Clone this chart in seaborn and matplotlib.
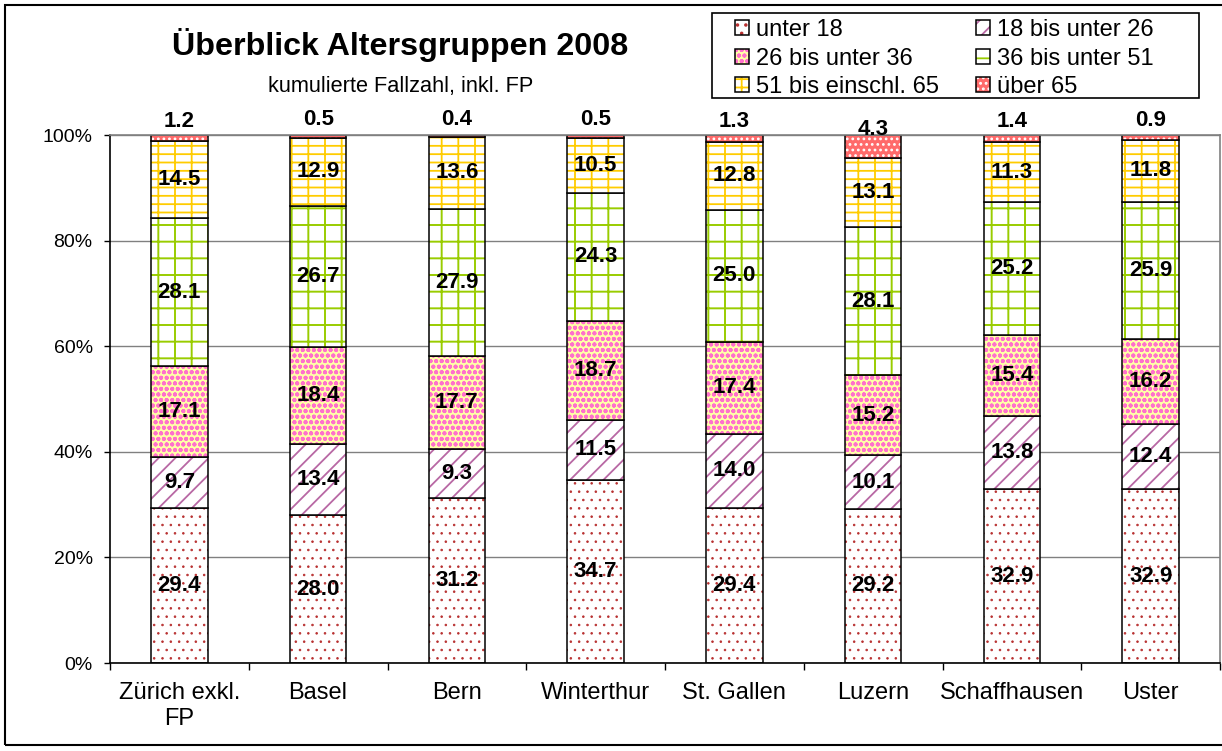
import numpy as np
import matplotlib
matplotlib.use("Agg")
import matplotlib.pyplot as plt
import seaborn as sns
from matplotlib.patches import Patch, Rectangle
from matplotlib.ticker import PercentFormatter

cities = ["Zürich exkl.\nFP", "Basel", "Bern", "Winterthur", "St. Gallen",
          "Luzern", "Schaffhausen", "Uster"]
groups = ["unter 18", "18 bis unter 26", "26 bis unter 36", "36 bis unter 51",
          "51 bis einschl. 65", "über 65"]

unter_18 = [29.4, 28.0, 31.2, 34.7, 29.4, 29.2, 32.9, 32.9]
von_18_26 = [9.7, 13.4, 9.3, 11.5, 14.0, 10.1, 13.8, 12.4]
von_26_36 = [17.1, 18.4, 17.7, 18.7, 17.4, 15.2, 15.4, 16.2]
von_36_51 = [28.1, 26.7, 27.9, 24.3, 25.0, 28.1, 25.2, 25.9]
von_51_65 = [14.5, 12.9, 13.6, 10.5, 12.8, 13.1, 11.3, 11.8]
ueber_65 = [1.2, 0.5, 0.4, 0.5, 1.3, 4.3, 1.4, 0.9]

series = [unter_18, von_18_26, von_26_36, von_36_51, von_51_65, ueber_65]

# fill colour, hatch colour, hatch, hatch line width
faces = ["white", "white", "#ffffa8", "white", "white", "#ff6a6a"]
hatch_cols = ["#b83030", "#b868a4", "#ff70cc", "#99cc00", "#ffcc00", "white"]
hatches = ["..", "//", "ooo", "+", "--|", "..."]
hatch_lw = [0.6, 1.3, 1.3, 1.4, 1.3, 1.2]

sns.set_style("white")
plt.rcParams["font.family"] = ["Liberation Sans", "DejaVu Sans"]
plt.rcParams["hatch.linewidth"] = 1.3
for key in ["text.color", "axes.labelcolor", "xtick.color", "ytick.color"]:
    plt.rcParams[key] = "black"

W, H = 1222, 751
fig = plt.figure(figsize=(W / 100, H / 100), dpi=100)
ax = fig.add_axes([110 / W, 88 / H, 1110 / W, 528 / H])

vals = np.array(series)
totals = vals.sum(axis=0)
bar_w = 0.406

bottom = np.zeros(len(cities))
for i, v in enumerate(vals):
    share = v / totals
    with plt.rc_context({"hatch.linewidth": hatch_lw[i]}):
        sns.barplot(x=cities, y=share, order=cities, bottom=bottom, width=bar_w,
                    color=faces[i], edgecolor=hatch_cols[i], linewidth=0,
                    hatch=hatches[i], saturation=1, errorbar=None, ax=ax)
    sns.barplot(x=cities, y=share, order=cities, bottom=bottom, width=bar_w,
                color="black", fill=False, linewidth=1.1, saturation=1,
                errorbar=None, ax=ax)
    for j, (b, s, raw) in enumerate(zip(bottom, share, v)):
        if i == len(vals) - 1:
            ax.annotate(f"{raw:.1f}", (j, b + s / 2), xytext=(0, 17),
                        textcoords="offset pixels", ha="center", va="center",
                        fontsize=16, fontweight="bold", color="black")
        else:
            ax.text(j, b + s / 2, f"{raw:.1f}", ha="center", va="center",
                    fontsize=16, fontweight="bold", color="black")
    bottom = bottom + share

ax.set_xlim(-0.5, len(cities) - 0.5)
ax.set_ylim(0, 1)
ax.set_yticks(np.linspace(0, 1, 6))
ax.yaxis.set_major_formatter(PercentFormatter(1.0, decimals=0))
ax.set_xticks(np.arange(-0.5, len(cities), 1), minor=True)
ax.tick_params(axis="x", which="major", length=0, pad=14, labelsize=17)
ax.tick_params(axis="x", which="minor", length=5, width=1, color="black",
               direction="out", bottom=True)
ax.tick_params(axis="y", length=4.5, width=1, color="black", direction="out",
               left=True, pad=8, labelsize=14)
ax.yaxis.grid(True, color="#808080", linewidth=1)
ax.set_axisbelow(True)
for side in ["left", "bottom"]:
    ax.spines[side].set_color("black")
    ax.spines[side].set_linewidth(1.2)
for side in ["top", "right"]:
    ax.spines[side].set_color("#808080")
    ax.spines[side].set_linewidth(1.2)
ax.set_xlabel("")
ax.set_ylabel("")

fig.text(400 / W, 1 - 55 / H, "Überblick Altersgruppen 2008", ha="center",
         va="baseline", fontsize=23.2, fontweight="bold")
fig.text(401 / W, 1 - 92 / H, "kumulierte Fallzahl, inkl. FP", ha="center",
         va="baseline", fontsize=15.7)

handles = []
for i in range(len(groups)):
    with plt.rc_context({"hatch.linewidth": hatch_lw[i]}):
        hp = Patch(facecolor=faces[i], edgecolor=hatch_cols[i], hatch=hatches[i], lw=0)
    handles.append((hp, Patch(fill=False, edgecolor="black", lw=1.1)))
order = [0, 2, 4, 1, 3, 5]
fig.legend([handles[k] for k in order], [groups[k] for k in order], ncol=2,
           loc="upper left", bbox_to_anchor=(735 / W, 1 - 19 / H), frameon=False,
           fontsize=17, handlelength=0.6, handleheight=0.6, handletextpad=0.3,
           columnspacing=1.55, labelspacing=0.28, borderpad=0, borderaxespad=0)
fig.add_artist(Rectangle((712 / W, 1 - 98 / H), (1199 - 712) / W, 85 / H,
                         transform=fig.transFigure, fill=False, ec="black", lw=1.2))
fig.add_artist(Rectangle((5 / W, 1 - 745 / H), 2, 740 / H,
                         transform=fig.transFigure, fill=False, ec="black", lw=1.5))

fig.savefig("out.png", dpi=100)
